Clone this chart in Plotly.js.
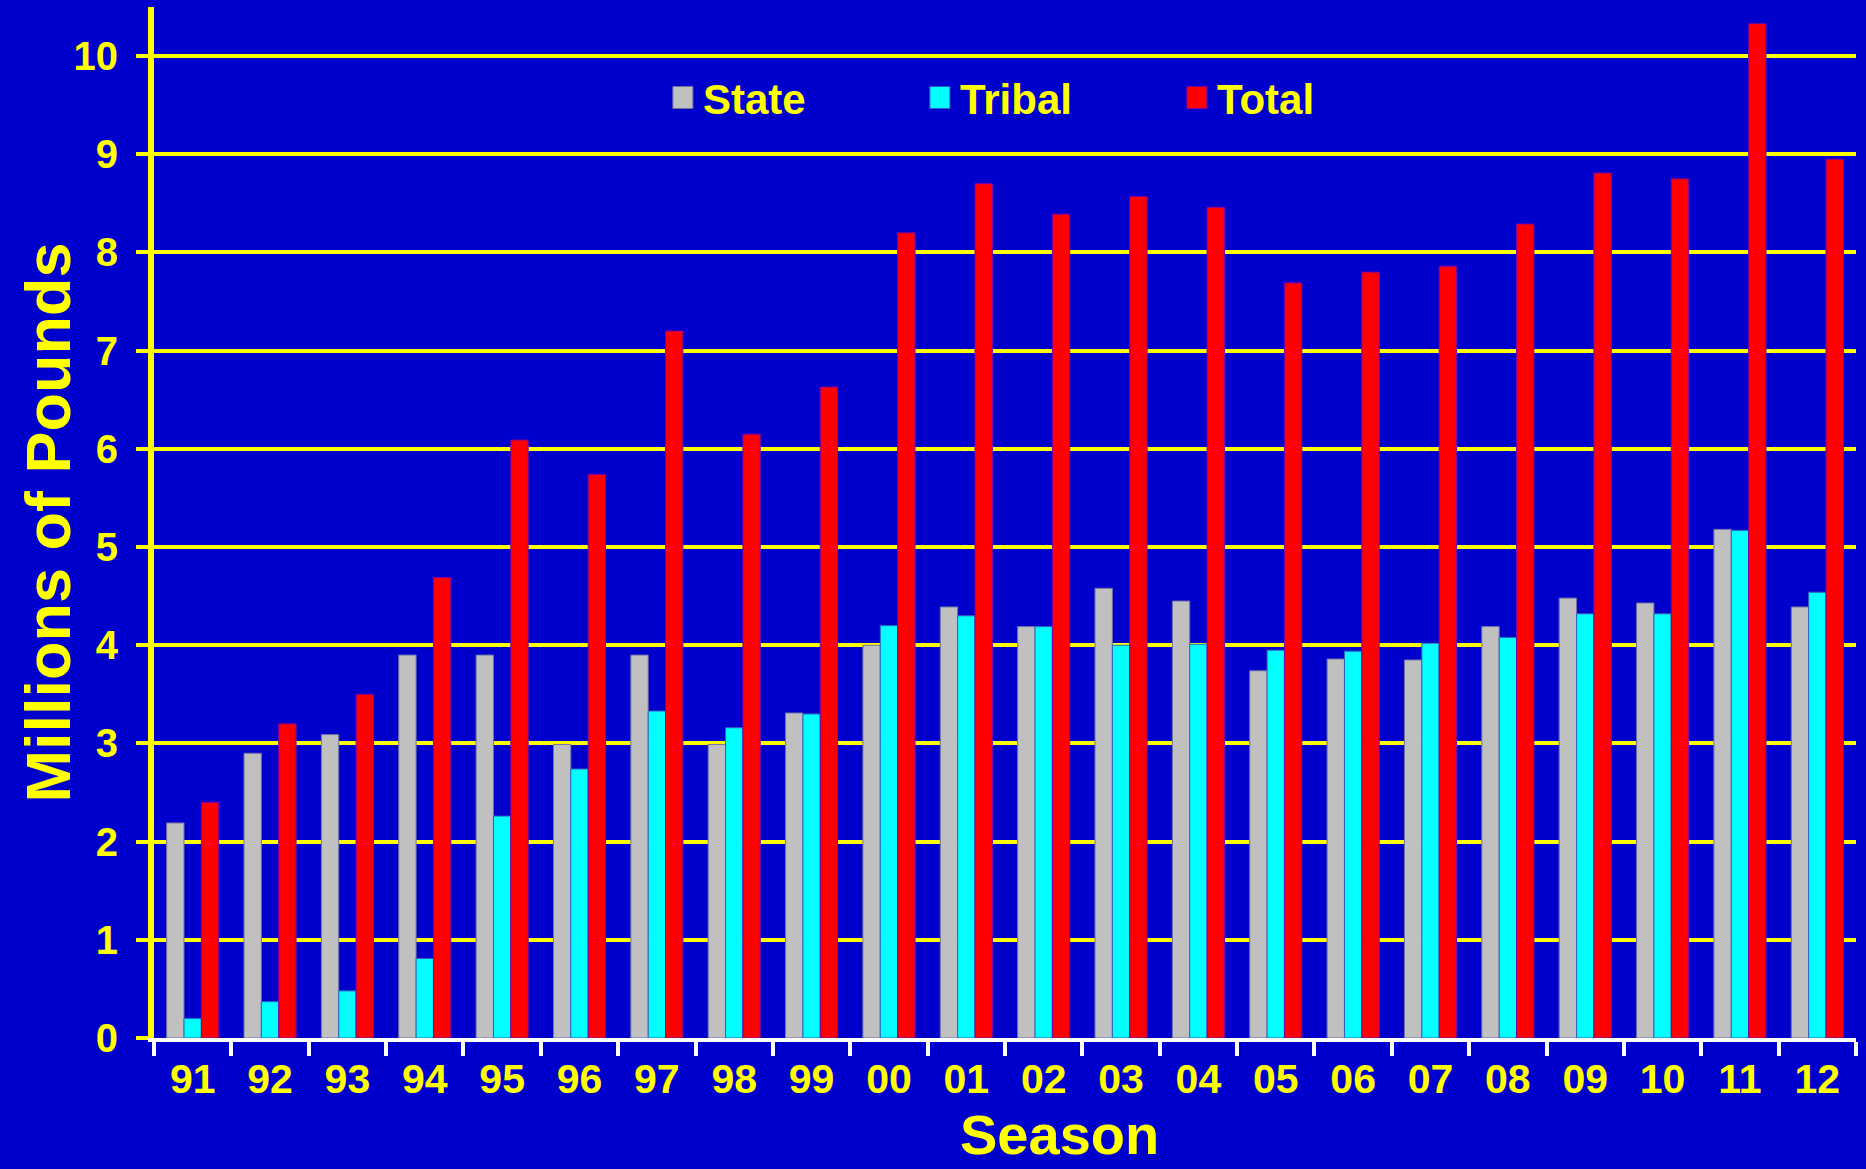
<!DOCTYPE html>
<html>
<head>
<meta charset="utf-8">
<script src="https://cdn.plot.ly/plotly-3.0.1.min.js"></script>
<style>
html,body{margin:0;padding:0;background:#0000CC;}
#chart{width:1866px;height:1169px;}
</style>
</head>
<body>
<div id="chart"></div>
<script>
var seasons = ["91","92","93","94","95","96","97","98","99","00","01","02","03","04","05","06","07","08","09","10","11","12"];
var stateVals  = [2.19,2.90,3.09,3.90,3.90,2.99,3.90,2.99,3.31,4.00,4.39,4.19,4.58,4.45,3.74,3.86,3.85,4.19,4.48,4.43,5.18,4.39];
var tribalVals = [0.20,0.37,0.48,0.81,2.26,2.74,3.33,3.16,3.30,4.20,4.30,4.19,4.00,4.01,3.95,3.94,4.02,4.08,4.32,4.32,5.17,4.54];
var totalVals  = [2.40,3.20,3.50,4.69,6.09,5.74,7.20,6.15,6.63,8.20,8.70,8.39,8.57,8.46,7.69,7.80,7.86,8.29,8.81,8.75,10.33,8.95];
var yTicks = [0,1,2,3,4,5,6,7,8,9,10];

var FONT = "Liberation Sans, Arial, sans-serif";
var YEL = "#FFFF00";

var traces = [
  {type:"bar", name:"State", x:seasons, y:stateVals,
   marker:{color:"#C0C0C0", line:{color:"#7070A8", width:1}}},
  {type:"bar", name:"Tribal", x:seasons, y:tribalVals,
   marker:{color:"#00FFFF", line:{color:"#3060C0", width:1}}},
  {type:"bar", name:"Total", x:seasons, y:totalVals,
   marker:{color:"#FF0000", line:{color:"#8000A0", width:1}}}
];

var layout = {
  width:1866, height:1169,
  paper_bgcolor:"#0000CC", plot_bgcolor:"#0000CC",
  margin:{l:154, r:10, t:7, b:131},
  barmode:"group", bargap:0.327, bargroupgap:0,
  font:{family:FONT, color:YEL, size:40, weight:"bold"},
  showlegend:true,
  legend:{orientation:"h", x:0.299, xanchor:"left", y:0.912, yanchor:"middle",
          bgcolor:"rgba(0,0,0,0)", font:{family:FONT, size:42, color:YEL, weight:"bold"},
          entrywidth:212, traceorder:"normal"},
  xaxis:{type:"category", tickson:"boundaries", ticks:"outside", ticklen:14, tickwidth:4,
         tickcolor:"#FFFFFF", showline:true, linecolor:"#FFFFFF", linewidth:4,
         showgrid:false, zeroline:false,
         tickfont:{family:FONT, size:41, color:YEL, weight:"bold"}, ticklabelstandoff:2},
  yaxis:{range:[0,10.5], tickvals:yTicks, ticktext:yTicks.map(String),
         ticks:"outside", ticklen:12, tickwidth:4, tickcolor:YEL,
         showline:true, linecolor:YEL, linewidth:6,
         showgrid:true, gridcolor:YEL, gridwidth:4, zeroline:false,
         tickfont:{family:FONT, size:40, color:YEL, weight:"bold"}, ticklabelstandoff:10},
  annotations:[
    {text:"Season", xref:"paper", yref:"paper", x:0.532, y:-0.1261, xanchor:"center", yanchor:"bottom",
     showarrow:false, font:{family:FONT, size:56, color:YEL, weight:"bold"}},
    {text:"Millions of Pounds", xref:"paper", yref:"paper", x:-0.0623, y:0.5, xanchor:"center", yanchor:"middle",
     textangle:-90, showarrow:false, font:{family:FONT, size:63, color:YEL, weight:"bold"}}
  ]
};

Plotly.newPlot("chart", traces, layout, {displayModeBar:false, staticPlot:true}).then(function(gd){
  // enlarge the legend colour swatches to match the reference's square keys
  gd.querySelectorAll(".legend .legendpoints path").forEach(function(p){
    p.setAttribute("d", "M10,11H-10V-11H10Z");
  });
});
</script>
</body>
</html>
